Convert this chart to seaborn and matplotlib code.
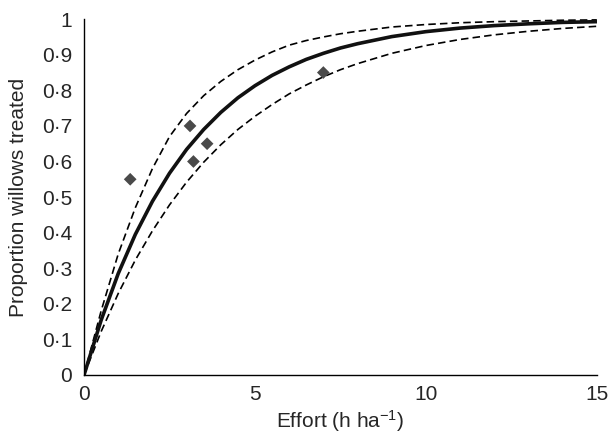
import matplotlib
matplotlib.use('Agg')
import matplotlib.pyplot as plt
import seaborn as sns
import pandas as pd

# effort grid the curves were read at
effort = [0, 0.5, 1, 1.5, 2, 2.5, 3, 3.5, 4, 4.5, 5, 5.5, 6, 6.5, 7, 7.5, 8, 9, 10,
          11, 12, 13, 14, 15]
fit_mid = [0, 0.154, 0.285, 0.395, 0.488, 0.567, 0.634, 0.690, 0.738, 0.779, 0.813,
           0.842, 0.866, 0.887, 0.904, 0.919, 0.931, 0.951, 0.965, 0.975, 0.982,
           0.987, 0.991, 0.993]
fit_upper = [0, 0.18, 0.34, 0.47, 0.58, 0.67, 0.735, 0.785, 0.825, 0.858, 0.885,
             0.908, 0.927, 0.94, 0.95, 0.959, 0.966, 0.978, 0.985, 0.99, 0.993,
             0.995, 0.997, 0.998]
fit_lower = [0, 0.122, 0.229, 0.323, 0.405, 0.478, 0.542, 0.598, 0.647, 0.69, 0.727,
             0.76, 0.79, 0.815, 0.838, 0.858, 0.875, 0.904, 0.926, 0.943, 0.956,
             0.966, 0.974, 0.98]

# observed sites
obs_effort = [1.35, 3.1, 3.2, 3.6, 7.0]
obs_prop = [0.55, 0.70, 0.60, 0.65, 0.85]

y_ticks = [0, 0.1, 0.2, 0.3, 0.4, 0.5, 0.6, 0.7, 0.8, 0.9, 1]
y_labels = ['0', '0·1', '0·2', '0·3', '0·4', '0·5', '0·6', '0·7', '0·8', '0·9', '1']
x_ticks = [0, 5, 10, 15]

sns.set_style('white')
plt.rcParams['font.family'] = ['Liberation Sans', 'DejaVu Sans']
plt.rcParams['mathtext.fontset'] = 'custom'
plt.rcParams['mathtext.rm'] = 'Liberation Sans'
plt.rcParams['mathtext.it'] = 'Liberation Sans'

curves = pd.DataFrame({'effort': effort, 'mid': fit_mid, 'upper': fit_upper, 'lower': fit_lower})
obs = pd.DataFrame({'effort': obs_effort, 'prop': obs_prop})

fig = plt.figure(figsize=(6.09, 4.36), dpi=100)
ax = fig.add_axes([0.138, 0.140, 0.842, 0.816])

sns.lineplot(data=curves, x='effort', y='upper', ax=ax, color='black', linewidth=1.2,
             dashes=False, linestyle=(0, (4.5, 2.5)))
sns.lineplot(data=curves, x='effort', y='lower', ax=ax, color='black', linewidth=1.2,
             dashes=False, linestyle=(0, (4.5, 2.5)))
sns.lineplot(data=curves, x='effort', y='mid', ax=ax, color='#111111', linewidth=2.6,
             solid_joinstyle='round')
sns.scatterplot(data=obs, x='effort', y='prop', ax=ax, marker='D', s=42,
                color='#4a4a4a', edgecolor='none', zorder=5)

ax.set_xlim(0, 15)
ax.set_ylim(0, 1)
ax.set_yticks(y_ticks)
ax.set_yticklabels(y_labels)
ax.set_xticks(x_ticks)
ax.tick_params(direction='in', length=5, width=0.8, color='#999999', labelsize=15, pad=7)
ax.tick_params(axis='y', pad=8.5)
for s in ['top', 'right']:
    ax.spines[s].set_visible(False)
for s in ['left', 'bottom']:
    ax.spines[s].set_color('black')
    ax.spines[s].set_linewidth(1.0)

ax.set_xlabel('Effort (h ha$^{\u2212 1}$)', fontsize=15, labelpad=3)
ax.set_ylabel('Proportion willows treated', fontsize=15, labelpad=10)

fig.savefig('out.png', dpi=100)
